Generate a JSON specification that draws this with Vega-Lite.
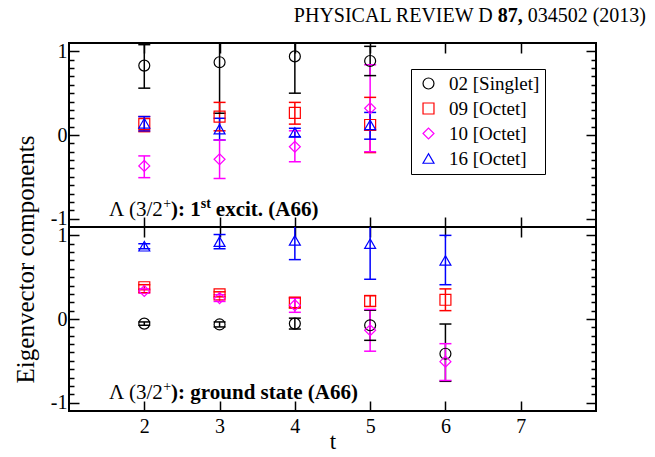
{
  "$schema": "https://vega.github.io/schema/vega-lite/v6.json",
  "background": "white",
  "padding": {"left": 12, "top": 5, "right": 5, "bottom": 5},
  "spacing": 0,
  "bounds": "flush",
  "config": {
    "font": "Liberation Serif",
    "view": {"stroke": "black", "strokeWidth": 2},
    "axis": {"domain": false, "grid": false, "tickColor": "black", "labelColor": "black", "titleColor": "black", "labelFont": "Liberation Serif", "titleFont": "Liberation Serif", "labelFontSize": 20, "titleFontSize": 23, "titleFontWeight": "normal", "tickWidth": 1.5}
  },
  "datasets": {
    "top": [
      {"op": "02 [Singlet]", "t": 2, "y": 0.83, "lo": 0.56, "hi": 1.08},
      {"op": "02 [Singlet]", "t": 3, "y": 0.87, "lo": 0.26, "hi": 1.48},
      {"op": "02 [Singlet]", "t": 4, "y": 0.94, "lo": 0.50, "hi": 1.38},
      {"op": "02 [Singlet]", "t": 5, "y": 0.885, "lo": 0.71, "hi": 1.06},
      {"op": "09 [Octet]", "t": 2, "y": 0.13, "lo": 0.04, "hi": 0.22},
      {"op": "09 [Octet]", "t": 3, "y": 0.22, "lo": 0.05, "hi": 0.39},
      {"op": "09 [Octet]", "t": 4, "y": 0.265, "lo": 0.13, "hi": 0.39},
      {"op": "09 [Octet]", "t": 5, "y": 0.12, "lo": -0.21, "hi": 0.45},
      {"op": "10 [Octet]", "t": 2, "y": -0.37, "lo": -0.51, "hi": -0.25},
      {"op": "10 [Octet]", "t": 3, "y": -0.29, "lo": -0.52, "hi": -0.06},
      {"op": "10 [Octet]", "t": 4, "y": -0.14, "lo": -0.32, "hi": 0.05},
      {"op": "10 [Octet]", "t": 5, "y": 0.32, "lo": -0.2, "hi": 0.84},
      {"op": "16 [Octet]", "t": 2, "y": 0.14, "lo": 0.05, "hi": 0.22},
      {"op": "16 [Octet]", "t": 3, "y": 0.07, "lo": -0.06, "hi": 0.2},
      {"op": "16 [Octet]", "t": 4, "y": 0.03, "lo": -0.02, "hi": 0.08},
      {"op": "16 [Octet]", "t": 5, "y": 0.12, "lo": -0.05, "hi": 0.27}
    ],
    "bottom": [
      {"op": "02 [Singlet]", "t": 2, "y": -0.055, "lo": -0.075, "hi": -0.035},
      {"op": "02 [Singlet]", "t": 3, "y": -0.065, "lo": -0.095, "hi": -0.035},
      {"op": "02 [Singlet]", "t": 4, "y": -0.055, "lo": -0.12, "hi": 0.01},
      {"op": "02 [Singlet]", "t": 5, "y": -0.075, "lo": -0.255, "hi": 0.105},
      {"op": "02 [Singlet]", "t": 6, "y": -0.415, "lo": -0.745, "hi": -0.06},
      {"op": "09 [Octet]", "t": 2, "y": 0.38, "lo": 0.35, "hi": 0.41},
      {"op": "09 [Octet]", "t": 3, "y": 0.295, "lo": 0.265, "hi": 0.325},
      {"op": "09 [Octet]", "t": 4, "y": 0.195, "lo": 0.135, "hi": 0.255},
      {"op": "09 [Octet]", "t": 5, "y": 0.215, "lo": 0.15, "hi": 0.28},
      {"op": "09 [Octet]", "t": 6, "y": 0.23, "lo": 0.10, "hi": 0.36},
      {"op": "10 [Octet]", "t": 2, "y": 0.335, "lo": 0.31, "hi": 0.36},
      {"op": "10 [Octet]", "t": 3, "y": 0.25, "lo": 0.21, "hi": 0.29},
      {"op": "10 [Octet]", "t": 4, "y": 0.165, "lo": 0.08, "hi": 0.25},
      {"op": "10 [Octet]", "t": 5, "y": -0.135, "lo": -0.385, "hi": 0.115},
      {"op": "10 [Octet]", "t": 6, "y": -0.51, "lo": -0.735, "hi": -0.295},
      {"op": "16 [Octet]", "t": 2, "y": 0.87, "lo": 0.84, "hi": 0.90},
      {"op": "16 [Octet]", "t": 3, "y": 0.925, "lo": 0.84, "hi": 1.01},
      {"op": "16 [Octet]", "t": 4, "y": 0.94, "lo": 0.71, "hi": 1.17},
      {"op": "16 [Octet]", "t": 5, "y": 0.90, "lo": 0.475, "hi": 1.33},
      {"op": "16 [Octet]", "t": 6, "y": 0.70, "lo": 0.41, "hi": 1.0}
    ]
  },
  "vconcat": [
    {
      "width": 527,
      "height": 184,
      "resolve": {"axis": {"x": "independent", "y": "independent"}, "legend": {"color": "independent", "shape": "independent"}},
      "layer": [
        {
          "data": {"name": "top"},
          "mark": {"type": "rule", "clip": true, "strokeWidth": 1.5},
          "encoding": {
            "x": {"field": "t", "type": "quantitative", "scale": {"domain": [1, 8], "nice": false, "zero": false}, "axis": {"orient": "bottom", "values": [2, 3, 4, 5, 6, 7], "labels": false, "tickSize": -10, "title": null}},
            "y": {"field": "lo", "type": "quantitative", "scale": {"domain": [-1.1, 1.1], "nice": false, "zero": false}, "axis": {"orient": "left", "values": [-1, -0.9, -0.8, -0.7, -0.6, -0.5, -0.4, -0.3, -0.2, -0.1, 0, 0.1, 0.2, 0.3, 0.4, 0.5, 0.6, 0.7, 0.8, 0.9, 1], "labelExpr": "datum.value == 1 ? '1' : datum.value == 0 ? '0' : datum.value == -1 ? '-1' : ''", "tickSize": {"condition": {"test": "datum.value == 1 || datum.value == 0 || datum.value == -1", "value": -10}, "value": -5}, "labelPadding": 12, "title": "Eigenvector components", "titleFontSize": 25, "titleX": -44, "titleY": 216, "titleAngle": -90, "titleAlign": "center", "titleBaseline": "middle"}},
            "y2": {"field": "hi"},
            "color": {"field": "op", "type": "nominal", "scale": {"domain": ["02 [Singlet]", "09 [Octet]", "10 [Octet]", "16 [Octet]"], "range": ["#000000", "#ff0000", "#ff00ff", "#0000ff"]}, "legend": null}
          }
        },
        {
          "data": {"name": "top"},
          "mark": {"type": "tick", "orient": "horizontal", "clip": true, "size": 12, "thickness": 1.5, "opacity": 1},
          "encoding": {
            "x": {"field": "t", "type": "quantitative", "scale": {"domain": [1, 8], "nice": false, "zero": false}, "axis": null},
            "y": {"field": "lo", "type": "quantitative", "scale": {"domain": [-1.1, 1.1], "nice": false, "zero": false}, "axis": null},
            "color": {"field": "op", "type": "nominal", "legend": null}
          }
        },
        {
          "data": {"name": "top"},
          "mark": {"type": "tick", "orient": "horizontal", "clip": true, "size": 12, "thickness": 1.5, "opacity": 1},
          "encoding": {
            "x": {"field": "t", "type": "quantitative", "scale": {"domain": [1, 8], "nice": false, "zero": false}, "axis": null},
            "y": {"field": "hi", "type": "quantitative", "scale": {"domain": [-1.1, 1.1], "nice": false, "zero": false}, "axis": null},
            "color": {"field": "op", "type": "nominal", "legend": null}
          }
        },
        {
          "data": {"name": "top"},
          "mark": {"type": "point", "filled": false, "size": 120, "strokeWidth": 1.2, "opacity": 1, "clip": true},
          "encoding": {
            "x": {"field": "t", "type": "quantitative", "scale": {"domain": [1, 8], "nice": false, "zero": false}, "axis": {"orient": "top", "values": [2, 3, 4, 5, 6, 7], "labels": false, "tickSize": -10, "title": null}},
            "y": {"field": "y", "type": "quantitative", "scale": {"domain": [-1.1, 1.1], "nice": false, "zero": false}, "axis": {"orient": "right", "values": [-1, -0.9, -0.8, -0.7, -0.6, -0.5, -0.4, -0.3, -0.2, -0.1, 0, 0.1, 0.2, 0.3, 0.4, 0.5, 0.6, 0.7, 0.8, 0.9, 1], "labels": false, "tickSize": {"condition": {"test": "datum.value == 1 || datum.value == 0 || datum.value == -1", "value": -10}, "value": -5}, "title": null}},
            "color": {"field": "op", "type": "nominal", "legend": {"orient": "none", "legendX": 342, "legendY": 26, "title": null, "strokeColor": "black", "fillColor": "white", "padding": 5, "labelFont": "Liberation Serif", "labelFontSize": 19, "labelColor": "black", "symbolSize": 120, "symbolStrokeWidth": 1.2, "symbolOffset": 3, "labelOffset": 11, "rowPadding": 5, "labelExpr": "datum.label + '\u00a0\u00a0\u00a0\u00a0'"}},
            "shape": {"field": "op", "type": "nominal", "scale": {"domain": ["02 [Singlet]", "09 [Octet]", "10 [Octet]", "16 [Octet]"], "range": ["circle", "square", "diamond", "triangle-up"]}, "legend": {"orient": "none", "legendX": 342, "legendY": 26, "title": null, "strokeColor": "black", "fillColor": "white", "padding": 5, "labelFont": "Liberation Serif", "labelFontSize": 19, "labelColor": "black", "symbolSize": 120, "symbolStrokeWidth": 1.2, "symbolOffset": 3, "labelOffset": 11, "rowPadding": 5, "labelExpr": "datum.label + '\u00a0\u00a0\u00a0\u00a0'"}}
          }
        },
        {
          "data": {"values": [{}]},
          "mark": {"type": "text", "align": "right", "baseline": "alphabetic", "fontSize": 20, "font": "Liberation Serif", "color": "black"},
          "encoding": {
            "x": {"datum": 6.628, "type": "quantitative", "scale": {"domain": [1, 8], "nice": false, "zero": false}, "axis": null},
            "y": {"datum": 1.351, "type": "quantitative", "scale": {"domain": [-1.1, 1.1], "nice": false, "zero": false}, "axis": null},
            "text": {"value": "PHYSICAL REVIEW D"}
          }
        },
        {
          "data": {"values": [{}]},
          "mark": {"type": "text", "align": "left", "baseline": "alphabetic", "fontSize": 20, "fontWeight": "bold", "font": "Liberation Serif", "color": "black"},
          "encoding": {
            "x": {"datum": 6.694, "type": "quantitative", "scale": {"domain": [1, 8], "nice": false, "zero": false}, "axis": null},
            "y": {"datum": 1.351, "type": "quantitative", "scale": {"domain": [-1.1, 1.1], "nice": false, "zero": false}, "axis": null},
            "text": {"value": "87,"}
          }
        },
        {
          "data": {"values": [{}]},
          "mark": {"type": "text", "align": "right", "baseline": "alphabetic", "fontSize": 20, "font": "Liberation Serif", "color": "black"},
          "encoding": {
            "x": {"datum": 8.664, "type": "quantitative", "scale": {"domain": [1, 8], "nice": false, "zero": false}, "axis": null},
            "y": {"datum": 1.351, "type": "quantitative", "scale": {"domain": [-1.1, 1.1], "nice": false, "zero": false}, "axis": null},
            "text": {"value": "034502 (2013)"}
          }
        },
        {
          "data": {"values": [{}]},
          "mark": {"type": "text", "align": "left", "baseline": "alphabetic", "fontSize": 21, "font": "Liberation Serif", "color": "black"},
          "encoding": {
            "x": {"datum": 1.5313, "type": "quantitative", "scale": {"domain": [1, 8], "nice": false, "zero": false}, "axis": null},
            "y": {"datum": -0.9685, "type": "quantitative", "scale": {"domain": [-1.1, 1.1], "nice": false, "zero": false}, "axis": null},
            "text": {"value": "Λ (3/2"}
          }
        },
        {
          "data": {"values": [{}]},
          "mark": {"type": "text", "align": "left", "baseline": "alphabetic", "fontSize": 14, "font": "Liberation Serif", "color": "black"},
          "encoding": {
            "x": {"datum": 2.2512, "type": "quantitative", "scale": {"domain": [1, 8], "nice": false, "zero": false}, "axis": null},
            "y": {"datum": -0.873, "type": "quantitative", "scale": {"domain": [-1.1, 1.1], "nice": false, "zero": false}, "axis": null},
            "text": {"value": "+"}
          }
        },
        {
          "data": {"values": [{}]},
          "mark": {"type": "text", "align": "left", "baseline": "alphabetic", "fontSize": 21, "fontWeight": "bold", "font": "Liberation Serif", "color": "black"},
          "encoding": {
            "x": {"datum": 2.3562, "type": "quantitative", "scale": {"domain": [1, 8], "nice": false, "zero": false}, "axis": null},
            "y": {"datum": -0.9685, "type": "quantitative", "scale": {"domain": [-1.1, 1.1], "nice": false, "zero": false}, "axis": null},
            "text": {"value": "): 1"}
          }
        },
        {
          "data": {"values": [{}]},
          "mark": {"type": "text", "align": "left", "baseline": "alphabetic", "fontSize": 14, "fontWeight": "bold", "font": "Liberation Serif", "color": "black"},
          "encoding": {
            "x": {"datum": 2.7506, "type": "quantitative", "scale": {"domain": [1, 8], "nice": false, "zero": false}, "axis": null},
            "y": {"datum": -0.873, "type": "quantitative", "scale": {"domain": [-1.1, 1.1], "nice": false, "zero": false}, "axis": null},
            "text": {"value": "st"}
          }
        },
        {
          "data": {"values": [{}]},
          "mark": {"type": "text", "align": "left", "baseline": "alphabetic", "fontSize": 21, "fontWeight": "bold", "font": "Liberation Serif", "color": "black"},
          "encoding": {
            "x": {"datum": 2.95, "type": "quantitative", "scale": {"domain": [1, 8], "nice": false, "zero": false}, "axis": null},
            "y": {"datum": -0.9685, "type": "quantitative", "scale": {"domain": [-1.1, 1.1], "nice": false, "zero": false}, "axis": null},
            "text": {"value": "excit. (A66)"}
          }
        }
      ]
    },
    {
      "width": 527,
      "height": 184,
      "resolve": {"axis": {"x": "independent", "y": "independent"}},
      "layer": [
        {
          "data": {"name": "bottom"},
          "mark": {"type": "rule", "clip": true, "strokeWidth": 1.5},
          "encoding": {
            "x": {"field": "t", "type": "quantitative", "scale": {"domain": [1, 8], "nice": false, "zero": false}, "axis": {"orient": "bottom", "values": [2, 3, 4, 5, 6, 7], "tickSize": -10, "labelPadding": 15, "title": "t", "titlePadding": -6}},
            "y": {"field": "lo", "type": "quantitative", "scale": {"domain": [-1.1, 1.1], "nice": false, "zero": false}, "axis": {"orient": "left", "values": [-1, -0.9, -0.8, -0.7, -0.6, -0.5, -0.4, -0.3, -0.2, -0.1, 0, 0.1, 0.2, 0.3, 0.4, 0.5, 0.6, 0.7, 0.8, 0.9, 1], "labelExpr": "datum.value == 1 ? '1' : datum.value == 0 ? '0' : datum.value == -1 ? '-1' : ''", "tickSize": {"condition": {"test": "datum.value == 1 || datum.value == 0 || datum.value == -1", "value": -10}, "value": -5}, "labelPadding": 12, "title": null}},
            "y2": {"field": "hi"},
            "color": {"field": "op", "type": "nominal", "legend": null}
          }
        },
        {
          "data": {"name": "bottom"},
          "mark": {"type": "tick", "orient": "horizontal", "clip": true, "size": 12, "thickness": 1.5, "opacity": 1},
          "encoding": {
            "x": {"field": "t", "type": "quantitative", "scale": {"domain": [1, 8], "nice": false, "zero": false}, "axis": null},
            "y": {"field": "lo", "type": "quantitative", "scale": {"domain": [-1.1, 1.1], "nice": false, "zero": false}, "axis": null},
            "color": {"field": "op", "type": "nominal", "legend": null}
          }
        },
        {
          "data": {"name": "bottom"},
          "mark": {"type": "tick", "orient": "horizontal", "clip": true, "size": 12, "thickness": 1.5, "opacity": 1},
          "encoding": {
            "x": {"field": "t", "type": "quantitative", "scale": {"domain": [1, 8], "nice": false, "zero": false}, "axis": null},
            "y": {"field": "hi", "type": "quantitative", "scale": {"domain": [-1.1, 1.1], "nice": false, "zero": false}, "axis": null},
            "color": {"field": "op", "type": "nominal", "legend": null}
          }
        },
        {
          "data": {"name": "bottom"},
          "mark": {"type": "point", "filled": false, "size": 120, "strokeWidth": 1.2, "opacity": 1, "clip": true},
          "encoding": {
            "x": {"field": "t", "type": "quantitative", "scale": {"domain": [1, 8], "nice": false, "zero": false}, "axis": {"orient": "top", "values": [2, 3, 4, 5, 6, 7], "labels": false, "tickSize": -10, "title": null}},
            "y": {"field": "y", "type": "quantitative", "scale": {"domain": [-1.1, 1.1], "nice": false, "zero": false}, "axis": {"orient": "right", "values": [-1, -0.9, -0.8, -0.7, -0.6, -0.5, -0.4, -0.3, -0.2, -0.1, 0, 0.1, 0.2, 0.3, 0.4, 0.5, 0.6, 0.7, 0.8, 0.9, 1], "labels": false, "tickSize": {"condition": {"test": "datum.value == 1 || datum.value == 0 || datum.value == -1", "value": -10}, "value": -5}, "title": null}},
            "color": {"field": "op", "type": "nominal", "legend": null},
            "shape": {"field": "op", "type": "nominal", "legend": null}
          }
        },
        {
          "data": {"values": [{}]},
          "mark": {"type": "text", "align": "left", "baseline": "alphabetic", "fontSize": 21, "font": "Liberation Serif", "color": "black"},
          "encoding": {
            "x": {"datum": 1.5313, "type": "quantitative", "scale": {"domain": [1, 8], "nice": false, "zero": false}, "axis": null},
            "y": {"datum": -0.96, "type": "quantitative", "scale": {"domain": [-1.1, 1.1], "nice": false, "zero": false}, "axis": null},
            "text": {"value": "Λ (3/2"}
          }
        },
        {
          "data": {"values": [{}]},
          "mark": {"type": "text", "align": "left", "baseline": "alphabetic", "fontSize": 14, "font": "Liberation Serif", "color": "black"},
          "encoding": {
            "x": {"datum": 2.2512, "type": "quantitative", "scale": {"domain": [1, 8], "nice": false, "zero": false}, "axis": null},
            "y": {"datum": -0.864, "type": "quantitative", "scale": {"domain": [-1.1, 1.1], "nice": false, "zero": false}, "axis": null},
            "text": {"value": "+"}
          }
        },
        {
          "data": {"values": [{}]},
          "mark": {"type": "text", "align": "left", "baseline": "alphabetic", "fontSize": 21, "fontWeight": "bold", "font": "Liberation Serif", "color": "black"},
          "encoding": {
            "x": {"datum": 2.3562, "type": "quantitative", "scale": {"domain": [1, 8], "nice": false, "zero": false}, "axis": null},
            "y": {"datum": -0.96, "type": "quantitative", "scale": {"domain": [-1.1, 1.1], "nice": false, "zero": false}, "axis": null},
            "text": {"value": "): ground state (A66)"}
          }
        }
      ]
    }
  ]
}
